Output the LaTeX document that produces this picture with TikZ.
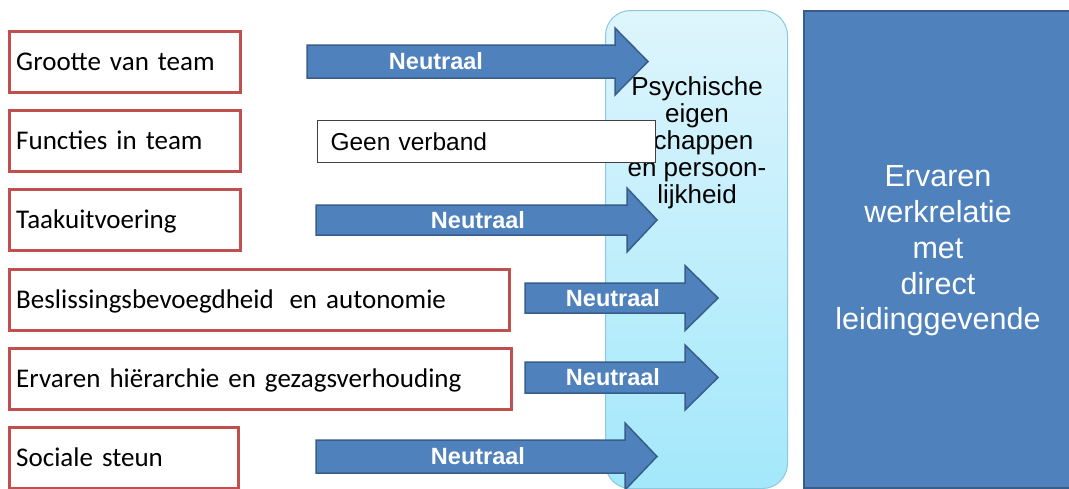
\documentclass[tikz,border=0pt]{standalone}
\usepackage{fontspec}
\setmainfont{Liberation Sans}
\newfontfamily\calib{Carlito}
\definecolor{redb}{RGB}{192,80,77}
\definecolor{blueb}{RGB}{79,129,189}
\definecolor{bluedark}{RGB}{56,93,138}
\definecolor{cyantop}{RGB}{222,245,252}
\definecolor{cyanbot}{RGB}{163,232,251}
\definecolor{cyanline}{RGB}{140,200,222}
\newcommand\blockarrow[8]{%
  % #1 name, #2 x0, #3 head base x, #4 tip x, #5 y centre, #6 half shaft, #7 half head, #8 text x
  \path[arrowbody] ({#2},{#5-#6}) -- ({#3},{#5-#6}) -- ({#3},{#5-#7}) -- ({#4},{#5})
    -- ({#3},{#5+#7}) -- ({#3},{#5+#6}) -- ({#2},{#5+#6}) -- cycle;
  \node[neut] (#1) at ({#8},{#5}) {Neutraal};
}
\begin{document}
\begin{tikzpicture}[x=1pt,y=-1pt,
  lbox/.style={draw=redb, line width=2.5pt, fill=white, minimum height=61pt,
    inner xsep=7pt, inner ysep=0pt, text height=18pt, text depth=0pt, align=left,
    font=\calib\fontsize{27}{30}\selectfont, anchor=north west},
  arrowbody/.style={fill=blueb, draw=bluedark, line width=1.5pt, line join=miter},
  neut/.style={font=\bfseries\fontsize{23.5}{26}\selectfont, text=white, inner sep=0pt,
    text height=16pt, text depth=0pt},
  geen/.style={draw=black!75, line width=1pt, fill=white, anchor=north west,
    minimum width=338pt, minimum height=42pt, inner xsep=13pt, inner ysep=0pt,
    text width=312pt, align=left, text height=17.5pt, text depth=0pt,
    font=\fontsize{24.5}{27}\selectfont},
  psybox/.style={draw=cyanline, line width=1pt, rounded corners=25pt,
    top color=cyantop, bottom color=cyanbot, anchor=north west,
    minimum width=182pt, minimum height=478pt, inner sep=0pt},
  psytext/.style={align=center, inner sep=0pt, font=\fontsize{26}{27.1}\selectfont},
  bigbox/.style={draw=bluedark, fill=blueb, line width=2pt, anchor=north west,
    minimum width=270pt, minimum height=477pt, inner sep=0pt},
  bigtext/.style={align=center, inner sep=0pt, text=white,
    font=\fontsize{30.5}{35.8}\selectfont}
]
\useasboundingbox[fill=white] (0,0) rectangle (1069,488);

% light blue mediator box
\node[psybox] (psy) at (605,10) {};

% arrows
\blockarrow{n1}{307}{615}{648}{61.5}{16.5}{33.5}{436}
\blockarrow{n2}{316}{627}{657}{220}{15}{32}{478}
\blockarrow{n3}{525}{685}{718}{298}{15}{32.5}{613}
\blockarrow{n4}{525}{685}{718}{377.5}{15.5}{32.5}{613}
\blockarrow{n5}{316}{625}{657}{456.5}{16.5}{33.5}{478}

% mediator text
\node[psytext] (psyt) at (697,142.5)
  {Psychische\\eigen\\\phantom{s}chappen\\en persoon-\\lijkheid};

% no relation box
\node[geen] (geen) at (317,120) {Geen verband};

% left factor boxes
\node[lbox, minimum width=231pt, text width=217pt] (f1) at (8,30) {Grootte van team};
\node[lbox, minimum width=231pt, text width=217pt] (f2) at (8,109) {Functies in team};
\node[lbox, minimum width=231pt, text width=217pt] (f3) at (8,188) {Taakuitvoering};
\node[lbox, minimum width=500pt, text width=486pt] (f4) at (8,268)
  {Beslissingsbevoegdheid\hspace{0.25em} en autonomie};
\node[lbox, minimum width=502pt, text width=488pt] (f5) at (8,347)
  {Ervaren hiërarchie en gezagsverhouding};
\node[lbox, minimum width=229pt, text width=215pt] (f6) at (8,426) {Sociale steun};

% outcome box
\node[bigbox] (erv) at (803,10) {};
\node[bigtext] (ervt) at (938,250.9)
  {Ervaren\\werkrelatie\\met\\direct\\leidinggevende};
\end{tikzpicture}
\end{document}
